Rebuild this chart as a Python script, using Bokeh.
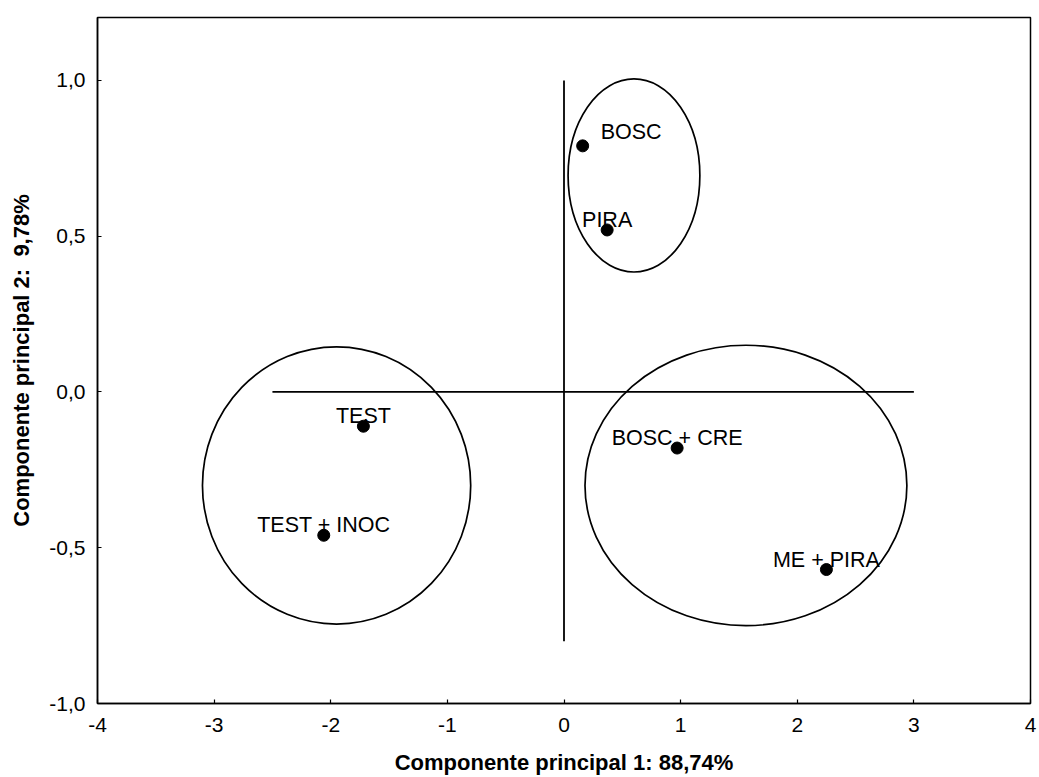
from bokeh.plotting import figure
from bokeh.models import (ColumnDataSource, FixedTicker, CustomJSTickFormatter,
                          Range1d)
from bokeh.core.properties import value
from bokeh.embed import file_html
from bokeh.resources import INLINE

# Principal component scores per treatment
treatments = ["BOSC", "PIRA", "TEST", "TEST + INOC", "BOSC + CRE", "ME + PIRA"]
pc1 = [0.16, 0.37, -1.72, -2.06, 0.97, 2.25]
pc2 = [0.79, 0.52, -0.11, -0.46, -0.18, -0.57]

# Group outlines (centre, width, height in component units)
group_x = [0.60, -1.95, 1.56]
group_y = [0.695, -0.30, -0.30]
group_w = [1.13, 2.30, 2.76]
group_h = [0.62, 0.89, 0.90]

# Reference axes drawn through the origin
h_axis_x = [-2.5, 3.0]
h_axis_y = [0.0, 0.0]
v_axis_x = [0.0, 0.0]
v_axis_y = [-0.8, 1.0]

x_ticks = [-4, -3, -2, -1, 0, 1, 2, 3, 4]
y_ticks = [-1.0, -0.5, 0.0, 0.5, 1.0]

FONT = "Liberation Sans"

p = figure(width=1039, height=777, output_backend="svg", toolbar_location=None,
           x_range=Range1d(-4, 4), y_range=Range1d(-1.0, 1.202),
           min_border_left=97, min_border_right=9, min_border_top=17,
           min_border_bottom=73)
p.background_fill_color = "white"
p.border_fill_color = "white"
p.outline_line_color = "black"
p.outline_line_width = 1.5
p.xgrid.visible = False
p.ygrid.visible = False

for ax in (p.xaxis[0], p.yaxis[0]):
    ax.axis_line_color = "black"
    ax.axis_line_width = 1.5
    ax.major_tick_in = 4
    ax.major_tick_out = 0
    ax.major_tick_line_width = 1.2
    ax.minor_tick_line_color = None
    ax.major_label_text_font = FONT
    ax.major_label_text_font_size = "21px"
    ax.major_label_text_color = "black"
    ax.axis_label_text_font = FONT
    ax.axis_label_text_font_size = "22px"
    ax.axis_label_text_font_style = "bold"
    ax.axis_label_text_color = "black"

p.xaxis[0].ticker = FixedTicker(ticks=x_ticks)
p.yaxis[0].ticker = FixedTicker(ticks=y_ticks)
p.xaxis[0].formatter = CustomJSTickFormatter(code="return tick.toFixed(0);")
p.yaxis[0].formatter = CustomJSTickFormatter(
    code="return tick.toFixed(1).replace('.', ',');")
p.xaxis[0].major_label_standoff = 14
p.yaxis[0].major_label_standoff = 12
p.xaxis[0].axis_label = "Componente principal 1: 88,74%"
p.yaxis[0].axis_label = "Componente principal 2: \u00a09,78%"
p.xaxis[0].axis_label_standoff = 15
p.yaxis[0].axis_label_standoff = 12

# Origin cross
p.line(h_axis_x, h_axis_y, line_color="black", line_width=1.8)
p.line(v_axis_x, v_axis_y, line_color="black", line_width=1.8)

# Group ellipses
p.ellipse(x=group_x, y=group_y, width=group_w, height=group_h,
          fill_color=None, line_color="black", line_width=1.7)

# Treatment points and labels
src = ColumnDataSource(dict(
    x=pc1, y=pc2, name=treatments,
    dx=[18, 0, 0, 0, 0, 0],
    dy=[-14, -10, -10, -10, -10, -10],
    align=["left", "center", "center", "center", "center", "center"],
))
p.scatter("x", "y", source=src, size=12, marker="circle",
          fill_color="black", line_color="black")
p.text("x", "y", text="name", source=src, x_offset="dx", y_offset="dy",
       text_align="align", text_baseline="alphabetic",
       text_font=value(FONT), text_font_size="21.5px", text_color="black")

open("out.html", "w").write(file_html(p, INLINE))
